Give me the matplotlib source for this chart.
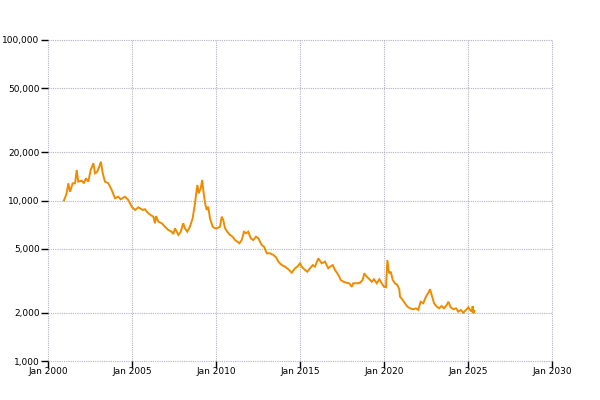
import matplotlib
matplotlib.use("Agg")
import matplotlib.pyplot as plt
from matplotlib.ticker import FixedLocator, FuncFormatter

# price history (decimal year, value)
years = [
    2000.95, 2001.11, 2001.21, 2001.31, 2001.47, 2001.61, 2001.71, 2001.80, 2002.01, 2002.14,
    2002.26, 2002.40, 2002.54, 2002.70, 2002.80, 2002.93, 2003.05, 2003.15, 2003.26, 2003.39,
    2003.59, 2003.79, 2003.99, 2004.18, 2004.33, 2004.58, 2004.78, 2004.98, 2005.18, 2005.38,
    2005.64, 2005.77, 2005.97, 2006.11, 2006.27, 2006.37, 2006.43, 2006.57, 2006.77, 2006.96,
    2007.16, 2007.36, 2007.46, 2007.56, 2007.66, 2007.76, 2007.90, 2008.05, 2008.15, 2008.29,
    2008.45, 2008.61, 2008.75, 2008.81, 2008.89, 2008.97, 2009.09, 2009.18, 2009.24, 2009.35,
    2009.45, 2009.54, 2009.64, 2009.80, 2009.94, 2010.04, 2010.24, 2010.34, 2010.43, 2010.54,
    2010.67, 2010.83, 2010.99, 2011.13, 2011.27, 2011.39, 2011.53, 2011.67, 2011.79, 2011.92,
    2012.07, 2012.22, 2012.38, 2012.52, 2012.72, 2012.86, 2013.02, 2013.21, 2013.41, 2013.57,
    2013.71, 2013.91, 2014.11, 2014.30, 2014.51, 2014.70, 2014.84, 2015.00, 2015.10, 2015.30,
    2015.43, 2015.60, 2015.76, 2015.89, 2016.09, 2016.29, 2016.49, 2016.68, 2016.79, 2016.95,
    2017.08, 2017.22, 2017.34, 2017.42, 2017.58, 2017.78, 2017.93, 2018.08, 2018.17, 2018.38,
    2018.57, 2018.73, 2018.83, 2018.93, 2019.07, 2019.27, 2019.40, 2019.57, 2019.72, 2019.86,
    2020.00, 2020.12, 2020.20, 2020.30, 2020.40, 2020.52, 2020.65, 2020.79, 2020.91, 2020.95,
    2021.11, 2021.25, 2021.39, 2021.55, 2021.74, 2021.90, 2022.04, 2022.18, 2022.34, 2022.50,
    2022.64, 2022.74, 2022.84, 2022.98, 2023.14, 2023.29, 2023.43, 2023.57, 2023.73, 2023.83,
    2023.97, 2024.13, 2024.29, 2024.42, 2024.57, 2024.72, 2024.88, 2025.02, 2025.12, 2025.22,
    2025.28, 2025.32, 2025.38,
]
prices = [
    10000, 11090, 12800, 11340, 12800, 12800, 15490, 13100, 13290, 12800,
    13750, 13100, 15490, 17050, 14770, 15110, 16240, 17450, 14770, 13100,
    12800, 11630, 10320, 10560, 10170, 10560, 10070, 9150, 8730, 9070,
    8730, 8820, 8320, 8120, 7930, 7210, 8000, 7380, 7210, 6870,
    6550, 6390, 6180, 6710, 6390, 6100, 6390, 7210, 6710, 6390,
    6870, 7750, 9610, 10820, 12490, 11090, 11910, 13420, 11630, 9610,
    8730, 9150, 7750, 6870, 6710, 6710, 6870, 7930, 7560, 6710,
    6390, 6100, 5950, 5670, 5540, 5410, 5670, 6390, 6250, 6390,
    5810, 5670, 5950, 5810, 5280, 5150, 4690, 4690, 4580, 4430,
    4160, 3960, 3870, 3730, 3550, 3780, 3870, 4060, 3870, 3690,
    3600, 3780, 3960, 3870, 4360, 4060, 4160, 3780, 3870, 3960,
    3690, 3520, 3350, 3200, 3120, 3070, 3050, 2900, 3050, 3050,
    3070, 3200, 3520, 3390, 3280, 3120, 3230, 3050, 3230, 3050,
    2900, 2880, 4260, 3520, 3600, 3200, 3050, 2980, 2800, 2520,
    2400, 2290, 2180, 2130, 2100, 2130, 2080, 2340, 2290, 2520,
    2660, 2800, 2580, 2290, 2180, 2130, 2200, 2130, 2230, 2340,
    2160, 2100, 2130, 2030, 2080, 2000, 2080, 2160, 2080, 2030,
    2200, 1980, 2060,
]

y_ticks = [1000, 2000, 5000, 10000, 20000, 50000, 100000]
x_ticks = [2000, 2005, 2010, 2015, 2020, 2025, 2030]

fig = plt.figure(figsize=(6, 4), dpi=100)
ax = fig.add_axes([0.08, 0.0975, 0.84, 0.8025])

ax.plot(years, prices, color="#ee8c00", linewidth=1.4, solid_joinstyle="miter")

ax.set_yscale("log")
ax.set_ylim(1000, 100000)
ax.set_xlim(2000, 2030)

ax.yaxis.set_major_locator(FixedLocator(y_ticks))
ax.yaxis.set_minor_locator(FixedLocator([]))
ax.yaxis.set_major_formatter(FuncFormatter(lambda v, p: f"{int(round(v)):,}"))
ax.xaxis.set_major_locator(FixedLocator(x_ticks))
ax.xaxis.set_major_formatter(FuncFormatter(lambda v, p: f"Jan {int(round(v))}"))

ax.grid(True, color="#b2b2c8", linestyle=(0, (1, 1)), linewidth=0.8)
for line in ax.get_xgridlines() + ax.get_ygridlines():
    line.set_clip_on(False)
for s in ax.spines.values():
    s.set_visible(False)

ax.tick_params(axis="y", length=5, width=1, pad=1, labelsize=6.5, colors="black")
ax.tick_params(axis="x", length=5, width=1, pad=-1, labelsize=6.5, colors="black")

fig.savefig("out.png", dpi=100)
